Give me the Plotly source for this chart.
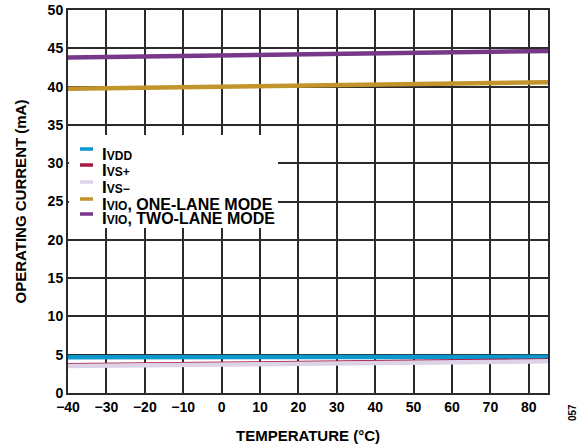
import plotly.graph_objects as go

temperature = [-40, -30, -20, -10, 0, 10, 20, 30, 40, 50, 60, 70, 80, 85]
i_vdd = [4.66, 4.66, 4.67, 4.67, 4.68, 4.68, 4.69, 4.69, 4.70, 4.70, 4.71, 4.71, 4.72, 4.72]
i_vs_plus = [3.80, 3.85, 3.90, 3.95, 4.00, 4.05, 4.10, 4.15, 4.20, 4.25, 4.30, 4.35, 4.40, 4.42]
i_vs_minus = [3.52, 3.57, 3.62, 3.67, 3.72, 3.77, 3.82, 3.87, 3.92, 3.97, 4.02, 4.07, 4.11, 4.13]
i_vio_one = [39.73, 39.80, 39.88, 39.95, 40.02, 40.10, 40.17, 40.23, 40.29, 40.35, 40.41, 40.47, 40.53, 40.56]
i_vio_two = [43.80, 43.88, 43.95, 44.03, 44.10, 44.18, 44.25, 44.31, 44.37, 44.43, 44.49, 44.56, 44.62, 44.65]

series_names = ["I<sub>VDD</sub>", "I<sub>VS+</sub>", "I<sub>VS\u2212</sub>",
                "I<sub>VIO</sub>, ONE-LANE MODE", "I<sub>VIO</sub>, TWO-LANE MODE"]
legend_labels = ["<span style='font-size:17px'>I</span><span style='font-size:12px'>VDD</span>",
                 "<span style='font-size:17px'>I</span><span style='font-size:12px'>VS+</span>",
                 "<span style='font-size:17px'>I</span><span style='font-size:12px'>VS\u2212</span>",
                 "<span style='font-size:17px'>I</span><span style='font-size:12px'>VIO</span>, ONE-LANE MODE",
                 "<span style='font-size:17px'>I</span><span style='font-size:12px'>VIO</span>, TWO-LANE MODE"]
series_values = [i_vdd, i_vs_plus, i_vs_minus, i_vio_one, i_vio_two]
series_colors = ["#0a98cf", "#a8183f", "#dcd3e8", "#c2952c", "#77388a"]
series_widths = [4.5, 1.8, 4.5, 4.5, 4.5]

x_ticks = list(range(-40, 90, 10))
x_tick_text = [("\u2212" + str(-v)) if v < 0 else str(v) for v in x_ticks]

font_family = "Arial, Liberation Sans, sans-serif"

fig = go.Figure()
for name, vals, col, w in zip(series_names, series_values, series_colors, series_widths):
    fig.add_trace(go.Scatter(x=temperature, y=vals, mode="lines", name=name,
                             line=dict(color=col, width=w), showlegend=False,
                             hoverinfo="skip"))

# plot area in pixels: left 68, right 548, top 10, bottom 393
def px_x(px):
    return (px - 68) / 480.0

def px_y(py):
    return (393 - py) / 383.0

shapes = []
shapes.append(dict(type="rect", xref="paper", yref="paper",
                   x0=px_x(69), x1=px_x(278), y0=px_y(228), y1=px_y(135),
                   fillcolor="white", line=dict(width=0), layer="above"))
legend_rows = [149, 165, 182, 199, 214]
annotations = []
for label, col, row in zip(legend_labels, series_colors, legend_rows):
    shapes.append(dict(type="line", xref="paper", yref="paper",
                       x0=px_x(80), x1=px_x(93), y0=px_y(row), y1=px_y(row),
                       line=dict(color=col, width=3.5), layer="above"))
    annotations.append(dict(text=label, xref="paper", yref="paper",
                            x=px_x(100), y=px_y(row + 5), xanchor="left", yanchor="middle",
                            showarrow=False,
                            font=dict(family=font_family, size=16, color="black", weight="bold")))

annotations.append(dict(text="057", xref="paper", yref="paper", x=px_x(572), y=px_y(413),
                        xanchor="center", yanchor="middle",
                        showarrow=False, textangle=-90,
                        font=dict(family=font_family, size=10, color="black")))

fig.update_layout(
    width=585, height=446,
    margin=dict(l=68, r=37, t=10, b=53, autoexpand=False),
    paper_bgcolor="white", plot_bgcolor="white",
    font=dict(family=font_family, size=14, color="black", weight="bold"),
    showlegend=False,
    hovermode=False,
    shapes=shapes,
    annotations=annotations,
    xaxis=dict(range=[-40, 85], tickvals=x_ticks, ticktext=x_tick_text,
               showgrid=True, gridcolor="#2a2a2a", gridwidth=2,
               showline=True, linecolor="#2a2a2a", linewidth=2, mirror=True,
               zeroline=False, ticks="", automargin=False,
               tickfont=dict(family=font_family, size=14, weight="bold"),
               title=dict(text="TEMPERATURE (\u00b0C)", standoff=17,
                          font=dict(family=font_family, size=15, weight="bold"))),
    yaxis=dict(range=[0, 50], dtick=5,
               showgrid=True, gridcolor="#2a2a2a", gridwidth=2,
               showline=True, linecolor="#2a2a2a", linewidth=2, mirror=True,
               zeroline=False, ticks="", automargin=False,
               tickfont=dict(family=font_family, size=14, weight="bold"),
               title=dict(text="OPERATING CURRENT (mA)", standoff=17,
                          font=dict(family=font_family, size=15, weight="bold"))),
)

fig.write_html("out.html", config={"displayModeBar": False, "staticPlot": True},
               post_script="document.body.style.margin='0px';")
